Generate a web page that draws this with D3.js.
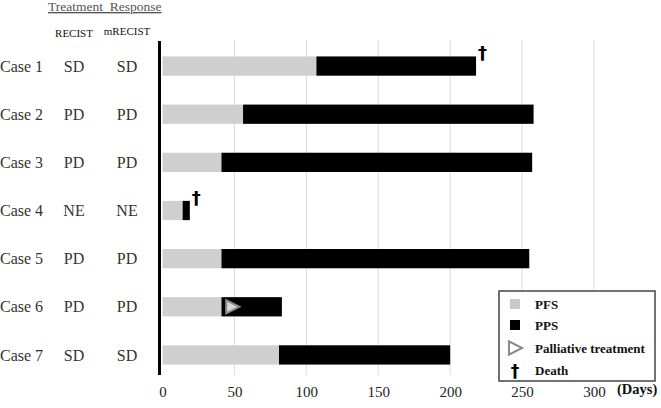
<!DOCTYPE html>
<html>
<head>
<meta charset="utf-8">
<script src="https://cdn.jsdelivr.net/npm/d3@7"></script>
<style>
  body { margin: 0; background: #fff; }
  svg { display: block; }
  text { font-family: "Liberation Serif", "Times New Roman", serif; }
</style>
</head>
<body>
<div id="chart"></div>
<script>
// data
var cases    = ["Case 1", "Case 2", "Case 3", "Case 4", "Case 5", "Case 6", "Case 7"];
var recist   = ["SD", "PD", "PD", "NE", "PD", "PD", "SD"];
var mrecist  = ["SD", "PD", "PD", "NE", "PD", "PD", "SD"];
var pfsDays  = [107, 56, 41, 14, 41, 41, 81];
var totalDays = [218, 258, 257, 19, 255, 83, 200];
var death    = [true, false, false, true, false, false, false];
var palliative = [null, null, null, null, null, 45, null];
var xTicks   = [0, 50, 100, 150, 200, 250, 300];

var W = 661, H = 408;
var font = "Liberation Serif";

var svg = d3.select("#chart").append("svg")
  .attr("width", W).attr("height", H)
  .attr("font-family", font);

var x = d3.scaleLinear().domain([0, 300]).range([162.5, 594]);
var y = d3.scaleBand().domain(cases).range([42, 379]).paddingInner(0.6).paddingOuter(0.3);

var plotTop = 40, plotBottom = 375;

// gridlines
svg.append("g")
  .selectAll("line")
  .data(xTicks.filter(function(d) { return d > 0; }))
  .enter().append("line")
    .attr("x1", function(d) { return x(d); })
    .attr("x2", function(d) { return x(d); })
    .attr("y1", plotTop).attr("y2", plotBottom)
    .style("stroke", "#dcdcdc")
    .style("stroke-width", 1);

// bottom tick labels (no axis line)
var xAxis = svg.append("g")
  .attr("transform", "translate(0," + 386 + ")")
  .call(d3.axisBottom(x).tickValues(xTicks).tickSize(0).tickPadding(0));
xAxis.attr("font-family", font).attr("font-size", 15);
xAxis.select(".domain").remove();
xAxis.selectAll("text")
  .style("font-family", font)
  .style("font-size", "15px")
  .style("fill", "#222");

svg.append("text")
  .attr("x", 617).attr("y", 394)
  .style("font-family", font)
  .style("font-size", "14.5px")
  .style("font-weight", "bold")
  .style("fill", "#111")
  .text("(Days)");

// bars: PFS grey, PPS black
var rows = svg.append("g").selectAll("g")
  .data(cases)
  .enter().append("g");

rows.append("rect")
  .attr("x", x(0))
  .attr("y", function(d) { return y(d); })
  .attr("width", function(d, i) { return x(pfsDays[i]) - x(0); })
  .attr("height", y.bandwidth())
  .style("fill", "#cfcfcf");

rows.append("rect")
  .attr("x", function(d, i) { return x(pfsDays[i]); })
  .attr("y", function(d) { return y(d); })
  .attr("width", function(d, i) { return x(totalDays[i]) - x(pfsDays[i]); })
  .attr("height", y.bandwidth())
  .style("fill", "#000");

// death daggers
rows.filter(function(d, i) { return death[i]; })
  .append("text")
    .attr("x", function(d) { return x(totalDays[cases.indexOf(d)]) + 2; })
    .attr("y", function(d) { return y(d) + 3; })
    .style("font-family", "'DejaVu Sans', sans-serif")
    .style("font-size", "18px")
    .style("font-weight", "bold")
    .style("fill", "#000")
    .text("\u2020");

// palliative treatment triangle
function triangle(cx, cy, s) {
  return "M" + (cx - s * 0.55) + "," + (cy - s * 0.6) +
         "L" + (cx + s * 0.65) + "," + cy +
         "L" + (cx - s * 0.55) + "," + (cy + s * 0.6) + "Z";
}
rows.filter(function(d, i) { return palliative[i] != null; })
  .append("path")
    .attr("d", function(d) {
      var i = cases.indexOf(d);
      return triangle(x(palliative[i]) + 5, y(d) + y.bandwidth() / 2, 11);
    })
    .style("fill", "#d8d8d8")
    .style("stroke", "#888")
    .style("stroke-width", 2);

// thick vertical axis line
svg.append("line")
  .attr("x1", 159.5).attr("x2", 159.5)
  .attr("y1", plotTop + 1).attr("y2", plotBottom)
  .style("stroke", "#000")
  .style("stroke-width", 3);

// left table
var lab = svg.append("g");
lab.selectAll(".case").data(cases).enter().append("text")
  .attr("x", 0)
  .attr("y", function(d) { return y(d) + y.bandwidth() / 2; })
  .attr("dy", "0.35em")
  .style("font-family", font).style("font-size", "16px").style("fill", "#333")
  .text(function(d) { return d; });

lab.selectAll(".rec").data(recist).enter().append("text")
  .attr("x", 74)
  .attr("y", function(d, i) { return y(cases[i]) + y.bandwidth() / 2; })
  .attr("dy", "0.35em")
  .attr("text-anchor", "middle")
  .style("font-family", font).style("font-size", "16px").style("fill", "#333")
  .text(function(d) { return d; });

lab.selectAll(".mrec").data(mrecist).enter().append("text")
  .attr("x", 127)
  .attr("y", function(d, i) { return y(cases[i]) + y.bandwidth() / 2; })
  .attr("dy", "0.35em")
  .attr("text-anchor", "middle")
  .style("font-family", font).style("font-size", "16px").style("fill", "#333")
  .text(function(d) { return d; });

lab.append("text")
  .attr("x", 74).attr("y", 37)
  .attr("text-anchor", "middle")
  .style("font-family", font).style("font-size", "11px").style("fill", "#111")
  .text("RECIST");
lab.append("text")
  .attr("x", 127).attr("y", 35)
  .attr("text-anchor", "middle")
  .style("font-family", font).style("font-size", "11px").style("fill", "#111")
  .text("mRECIST");

lab.append("text")
  .attr("x", 48).attr("y", 11)
  .style("font-family", font).style("font-size", "13.5px").style("fill", "#555")
  .style("text-decoration", "underline")
  .text("Treatment\u00a0\u00a0Response");

// legend
var lg = svg.append("g").attr("transform", "translate(499,291)");
lg.append("rect")
  .attr("width", 156).attr("height", 90)
  .style("fill", "#fff")
  .style("stroke", "#444")
  .style("stroke-width", 1.5);

var legItems = ["PFS", "PPS", "Palliative treatment", "Death"];
var legY = [13, 34, 57, 79];
legItems.forEach(function(t, i) {
  var cy = legY[i];
  if (i === 0 || i === 1) {
    lg.append("rect")
      .attr("x", 11).attr("y", cy - 5).attr("width", 10).attr("height", 10)
      .style("fill", i === 0 ? "#c8c8c8" : "#000");
  } else if (i === 2) {
    lg.append("path")
      .attr("d", triangle(16, cy, 11))
      .style("fill", "#fff").style("stroke", "#888").style("stroke-width", 2);
  } else {
    lg.append("text")
      .attr("x", 16).attr("y", cy).attr("dy", "0.4em")
      .attr("text-anchor", "middle")
      .style("font-family", "'DejaVu Sans', sans-serif")
      .style("font-size", "17px").style("font-weight", "bold")
      .text("\u2020");
  }
  lg.append("text")
    .attr("x", 36).attr("y", cy).attr("dy", "0.35em")
    .style("font-family", font).style("font-size", "13px").style("font-weight", "bold")
    .style("fill", "#111")
    .text(t);
});
</script>
</body>
</html>
